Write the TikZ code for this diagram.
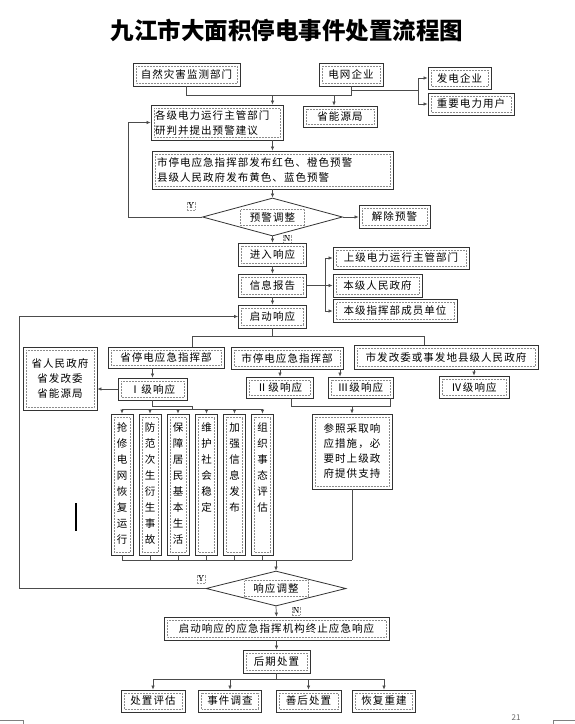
\documentclass[tikz,border=0pt]{standalone}
\usepackage{fontspec}
\setmainfont{Noto Sans CJK SC}
\newfontfamily\bxf{Noto Sans CJK SC}[LetterSpace=10]
\newfontfamily\titlef{Noto Sans CJK SC}
\newfontfamily\serf{Liberation Serif}
\usetikzlibrary{arrows.meta,shapes.geometric}
\begin{document}
\begin{tikzpicture}[x=1pt,y=-1pt,
  dframe/.style={path picture={\draw[black!45,densely dotted,line width=0.5pt]
     ([shift={(3pt,-3pt)}]path picture bounding box.north west) rectangle
     ([shift={(-3pt,3pt)}]path picture bounding box.south east);}},
  box/.style={draw=black!80,line width=0.8pt,inner sep=0pt,align=center,dframe,
     font=\bxf\fontsize{10.5}{15}\selectfont},
  wh/.style 2 args={minimum width=#1pt,minimum height=#2pt},
  vbox/.style={box,minimum width=22pt,minimum height=141pt,font=\bxf\fontsize{10.5}{16}\selectfont},
  dia/.style={shape=diamond,draw=black!80,line width=0.8pt,aspect=3.7,inner sep=0pt,
     font=\bxf\fontsize{10.5}{15}\selectfont},
  yn/.style={draw=black!40,densely dotted,line width=0.5pt,inner sep=1pt,font=\serf\fontsize{9}{9}\selectfont},
  ln/.style={draw=black!70,line width=0.7pt},
  arr/.style={ln,-{Latex[length=4pt,width=3.5pt]}},
  dotf/.style={draw=black!45,densely dotted,line width=0.5pt}
]
\useasboundingbox[fill=white] (0,0) rectangle (575,724);

\node[font=\titlef\bfseries\fontsize{23.5}{23.5}\selectfont] (title) at (287,30) {九江市大面积停电事件处置流程图};

% top rows
\node[box,wh={107}{23}] (A) at (186.5,74.5) {自然灾害监测部门};
\node[box,wh={64}{23}] (B) at (351,74.5) {电网企业};
\node[box,wh={63}{22}] (C) at (459.5,78) {发电企业};
\node[box,wh={86}{22}] (D) at (471,104) {重要电力用户};
\node[box,wh={132}{35},align=left,text width=124pt] (E) at (217,122.5) {各级电力运行主管部门\\研判并提出预警建议};
\node[box,wh={74}{21}] (F) at (340,116.5) {省能源局};
\node[box,wh={241}{38},align=left,text width=231pt] (G) at (272.5,170) {市停电应急指挥部发布红色、橙色预警\\县级人民政府发布黄色、蓝色预警};
\node[dia,minimum width=140pt,minimum height=38pt] (d1) at (272.5,217) {预警调整};
\draw[dotf] ([shift={(-32pt,-8pt)}]d1.center) rectangle ([shift={(32pt,8pt)}]d1.center);
\node[box,wh={71}{23}] (jc) at (394.5,216.5) {解除预警};
\node[yn] (y1) at (191,206) {Y};
\node[yn] (n1) at (287,239) {N};

\node[box,wh={68}{23}] (jr) at (272.5,254.5) {进入响应};
\node[box,wh={68}{23}] (xx) at (272.5,285.5) {信息报告};
\node[box,wh={68}{23}] (qd) at (272.5,316.5) {启动响应};
\node[box,wh={136}{22}] (s1) at (401,258) {上级电力运行主管部门};
\node[box,wh={89}{23}] (s2) at (377.5,285.5) {本级人民政府};
\node[box,wh={124}{23}] (s3) at (395,311) {本级指挥部成员单位};

% command row
\node[box,wh={116}{21}] (sheng) at (166,357.5) {省停电应急指挥部};
\node[box,wh={112}{22}] (shi) at (287,358) {市停电应急指挥部};
\node[box,wh={184}{24}] (fgw) at (446,357) {市发改委或事发地县级人民政府};
\node[box,wh={74}{63}] (sz) at (60,378.5) {省人民政府\\省发改委\\省能源局};
\node[box,wh={69}{22}] (I1) at (152.5,389) {Ⅰ级响应};
\node[box,wh={67}{21}] (I2) at (279.5,387.5) {Ⅱ级响应};
\node[box,wh={65}{21}] (I3) at (360.5,387.5) {Ⅲ级响应};
\node[box,wh={70}{22}] (I4) at (474,387) {Ⅳ级响应};

% vertical boxes
\node[vbox] (v1) at (122,484.5) {\parbox[c][133pt][t]{14pt}{\centering\vspace*{5pt}抢\\修\\电\\网\\恢\\复\\运\\行}};
\node[vbox] (v2) at (150,484.5) {\parbox[c][133pt][t]{14pt}{\centering\vspace*{5pt}防\\范\\次\\生\\衍\\生\\事\\故}};
\node[vbox] (v3) at (178,484.5) {\parbox[c][133pt][t]{14pt}{\centering\vspace*{5pt}保\\障\\居\\民\\基\\本\\生\\活}};
\node[vbox] (v4) at (206.5,484.5) {\parbox[c][133pt][t]{14pt}{\centering\vspace*{5pt}维\\护\\社\\会\\稳\\定}};
\node[vbox] (v5) at (234.5,484.5) {\parbox[c][133pt][t]{14pt}{\centering\vspace*{5pt}加\\强\\信\\息\\发\\布}};
\node[vbox] (v6) at (262.5,484.5) {\parbox[c][133pt][t]{14pt}{\centering\vspace*{5pt}组\\织\\事\\态\\评\\估}};
\node[box,wh={80}{75}] (cz) at (352,451.5) {参照采取响\\应措施，必\\要时上级政\\府提供支持};

% bottom
\node[dia,minimum width=140pt,minimum height=35pt] (d2) at (276,588.5) {响应调整};
\draw[dotf] ([shift={(-32pt,-8pt)}]d2.center) rectangle ([shift={(32pt,8pt)}]d2.center);
\node[yn] (y2) at (201,579) {Y};
\node[yn] (n2) at (296,611) {N};
\node[box,wh={225}{23}] (zz) at (276.5,628.5) {启动响应的应急指挥机构终止应急响应};
\node[box,wh={67}{23}] (hq) at (276.5,661.5) {后期处置};
\node[box,wh={64}{22}] (p1) at (153,701) {处置评估};
\node[box,wh={63}{22}] (p2) at (230,701) {事件调查};
\node[box,wh={65}{22}] (p3) at (308.5,701) {善后处置};
\node[box,wh={63}{22}] (p4) at (384,701) {恢复重建};

% ---- connectors top
\coordinate (busA) at (0,95);
\draw[ln] (A.south) -- (A.south |- busA) -- (B.south |- busA) -- (B.south);
\coordinate (c1) at (272.5,95);
\draw[arr] (c1) -- (c1 |- E.north);
\coordinate (c2) at (334,95);
\draw[arr] (c2) -- (c2 |- F.north);
\coordinate (c3) at (418,90);
\draw[ln] (B.south |- c3) -- (c3);
\draw[ln] (c3 |- C.west) -- (c3 |- D.west);
\draw[arr] (c3 |- C.west) -- (C.west);
\draw[arr] (c3 |- D.west) -- (D.west);
\draw[arr] (E.south -| c1) -- (G.north -| c1);
\draw[arr] (G.south) -- (d1.north);
\coordinate (c4) at (128,0);
\draw[arr] (d1.west) -- (d1.west -| c4) -- (c4 |- E.west) -- (E.west);
\draw[arr] (d1.east) -- (d1.east -| jc.west);
\draw[arr] (d1.south) -- (jr.north);
\draw[arr] (jr.south) -- (xx.north);
\draw[arr] (xx.south) -- (qd.north);
\coordinate (c5) at (325,0);
\draw[ln] (xx.east) -- (xx.east -| c5);
\draw[ln] (c5 |- s1.west) -- (c5 |- s3.west);
\draw[arr] (c5 |- s1.west) -- (s1.west);
\draw[arr] (c5 |- s2.west) -- (s2.west);
\draw[arr] (c5 |- s3.west) -- (s3.west);

% ---- command row
\coordinate (c6) at (192,336);
\coordinate (c7) at (424,336);
\draw[ln] (qd.south) -- (qd.south |- c6);
\draw[ln] (c6 |- sheng.north) -- (c6) -- (c7) -- (c7 |- fgw.north);
\draw[arr] (sheng.south -| I1.north) -- (I1.north);
\draw[arr] (I1.west) -- (I1.west -| sz.east);
\coordinate (c8) at (280,0);
\coordinate (c9) at (340,0);
\draw[arr] (c8 |- shi.south) -- (c8 |- I2.north);
\draw[arr] (c9 |- shi.south) -- (c9 |- I3.north);
\draw[arr] (I4.north |- fgw.south) -- (I4.north);

% Level I bus
\coordinate (c10) at (192,406);
\coordinate (bv) at (0,409.5);
\draw[ln] (I1.south) -- (I1.south |- c10) -- (c10) -- (c10 |- bv);
\draw[ln] (v1.north |- bv) -- (v6.north |- bv);
\foreach \v in {v1,v2,v3,v4,v5,v6}{\draw[arr] (\v.north |- bv) -- (\v.north);}
% Level II/III bracket
\coordinate (c11) at (291,406);
\coordinate (c12) at (390,406);
\draw[ln] (c11 |- I2.south) -- (c11) -- (c12) -- (c12 |- I3.south);
\draw[arr] (cz.north |- c11) -- (cz.north);

% bottom bus
\coordinate (bb) at (0,560);
\foreach \v in {v1,v2,v3,v4,v5,v6}{\draw[ln] (\v.south) -- (\v.south |- bb);}
\draw[ln] (cz.south) -- (cz.south |- bb);
\draw[ln] (v1.south |- bb) -- (cz.south |- bb);
\draw[arr] (d2.north |- bb) -- (d2.north);
\coordinate (c13) at (19,0);
\draw[arr] (d2.west) -- (d2.west -| c13) -- (c13 |- qd.west) -- (qd.west);
\draw[arr] (d2.south) -- (zz.north);
\draw[arr] (zz.south) -- (zz.south |- hq.north);
\coordinate (bq) at (0,679);
\draw[ln] (hq.south) -- (hq.south |- bq);
\draw[ln] (p1.north |- bq) -- (p4.north |- bq);
\foreach \p in {p1,p2,p3,p4}{\draw[arr] (\p.north |- bq) -- (\p.north);}

% page artefacts
\draw[black!50,line width=0.5pt] (0,720) -- (23,720) -- (23,724);
\draw[black!50,line width=0.5pt] (553,724) -- (553,720) -- (575,720);
\node[anchor=north,text=black!60,font=\fontsize{8}{8}\selectfont,inner sep=0pt] (pg) at (516,714) {21};
\draw[line width=1.3pt] (76,503) -- (76,531);
\end{tikzpicture}
\end{document}
